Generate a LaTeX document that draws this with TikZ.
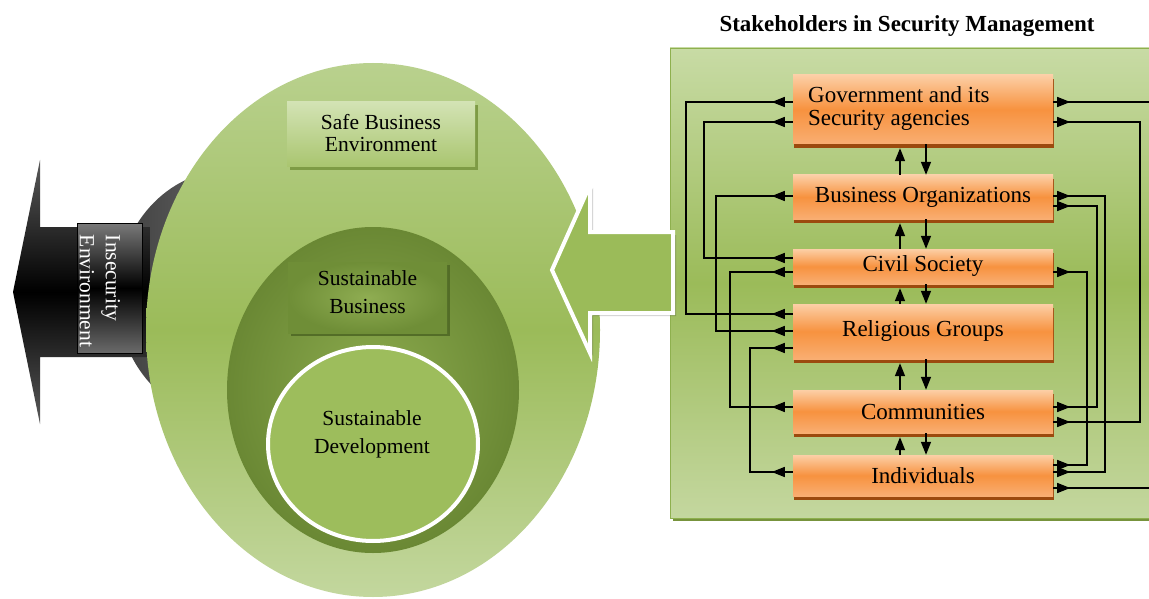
\documentclass[tikz,border=0pt]{standalone}
\usepackage{fontspec}
\setmainfont{Liberation Serif}
\usetikzlibrary{arrows.meta,shadings,shadows,calc}
\definecolor{olg}{HTML}{9BBB59}
\definecolor{olglt}{HTML}{C4D79F}
\definecolor{olgdk}{HTML}{77933C}
\definecolor{orlt}{HTML}{FCCFA6}
\definecolor{ormid}{HTML}{F7923F}
\definecolor{orbt}{HTML}{F9AE72}
\definecolor{orsh}{HTML}{9C4A0E}
\definecolor{pantop}{HTML}{C8DBA5}
\definecolor{panedge}{HTML}{8EB04E}
\definecolor{gry1}{HTML}{404040}
\definecolor{gry2}{HTML}{858585}
\definecolor{gry3}{HTML}{5A5A5A}
\definecolor{gry4}{HTML}{7A7A7A}
\definecolor{gry5}{HTML}{6A6A6A}
\definecolor{elltop}{HTML}{B9D18E}
\definecolor{ellbot}{HTML}{C3D79E}
\definecolor{safesh}{HTML}{7E9B45}
\definecolor{safetop}{HTML}{D3E3B4}
\definecolor{safebot}{HTML}{A9C56F}
\definecolor{inin}{HTML}{8CAB4E}
\definecolor{inout}{HTML}{6A8834}
\definecolor{sbsh}{HTML}{536D27}
\definecolor{sbin}{HTML}{8FAD52}
\definecolor{sbout}{HTML}{6F8E37}
\definecolor{sdfill}{HTML}{9DBD5C}
\newcommand\lconn[5]{%
  \draw[line] (#1.west |- 0,#2) -- (#3,#2) -- (#3,#5) -- (#4.west |- 0,#5);
  \draw[tipl] (#1.west |- 0,#2) -- ++(-21,0);
  \draw[tipl] (#4.west |- 0,#5) -- ++(-21,0);}
\newcommand\rconn[5]{%
  \draw[line] (#1.east |- 0,#2) -- (#3,#2) -- (#3,#5) -- (#4.east |- 0,#5);
  \draw[tipl] (#1.east |- 0,#2) -- ++(17,0);
  \draw[tipl] (#4.east |- 0,#5) -- ++(17,0);}
\begin{document}
\begin{tikzpicture}[x=1pt,y=-1pt,
  line/.style={line width=1.5pt,black},
  tipl/.style={line width=1.5pt,-{Triangle[length=13pt,width=10pt]}},
  stake/.style={rectangle, minimum width=260pt, inner sep=0pt,
    top color=orlt, bottom color=orbt, middle color=ormid,
    drop shadow={shadow xshift=1pt, shadow yshift=-4pt, fill=orsh, opacity=1},
    font=\fontsize{23}{23}\selectfont},
  ltxt/.style={font=\fontsize{21.5}{22}\selectfont, align=center, inner sep=0pt},
]
\useasboundingbox (0,0) rectangle (1149,599);
\clip (0,0) rectangle (1149,599);
\fill[white] (0,0) rectangle (1149,599);

% ---------- right panel ----------
\fill[olgdk] (673,51) rectangle (1175,521);
\shade[top color=pantop, bottom color=olglt, middle color=olg] (670,48) rectangle (1175,518);
\draw[panedge, line width=0.8pt] (670,48) rectangle (1175,518);

\node[font=\bfseries\fontsize{23}{25}\selectfont, inner sep=0pt] (title) at (907,26) {Stakeholders in Security Management};

\node[stake, minimum height=69pt] (gov) at (923,109.5) {};
\node[font=\fontsize{23}{23}\selectfont, anchor=west, align=left, inner sep=0pt] (govtxt) at (808,108.5) {Government and its\\Security agencies};
\node[stake, minimum height=44pt] (bus) at (923,197) {Business Organizations};
\node[stake, minimum height=35pt] (civ) at (923,266.5) {Civil Society};
\node[stake, minimum height=55pt] (rel) at (923,331.5) {Religious Groups};
\node[stake, minimum height=43pt] (com) at (923,411.5) {Communities};
\node[stake, minimum height=41pt] (ind) at (923,475.5) {Individuals};

% vertical arrows
\foreach \u/\l in {gov/bus, bus/civ, civ/rel, rel/com, com/ind}{
  \draw[tipl, shorten >=4pt] (\l.north -| 900,0) -- (\u.south -| 900,0);
  \draw[tipl] (\u.south -| 926,0) -- (\l.north -| 926,0);
}

% left connectors
\lconn{gov}{102}{686}{rel}{314}
\lconn{gov}{122}{704}{civ}{258}
\lconn{bus}{196}{716}{rel}{331}
\lconn{civ}{272}{730}{com}{407}
\lconn{rel}{348}{750}{ind}{472}
% right connectors
\rconn{gov}{102}{1170}{ind}{488}
\rconn{gov}{122}{1140}{com}{422}
\rconn{bus}{196}{1105}{ind}{472}
\rconn{bus}{206}{1097}{com}{407}
\rconn{civ}{272}{1087}{ind}{465}

% ---------- left part ----------
\shade[left color=gry1, right color=gry2] (230,295) ellipse [x radius=113, y radius=125];
\shade[top color=gry3, bottom color=gry3, middle color=black]
  (13,292) -- (40,160) -- (40,227) -- (150,227) -- (150,357) -- (40,357) -- (40,424) -- cycle;
\shade[top color=gry4, bottom color=gry5, middle color=black, draw=black, line width=0.8pt]
  (77,223) rectangle (142,353);
\node[rotate=-90, text=white, font=\fontsize{21.5}{26}\selectfont, align=left, inner sep=0pt] (insec) at (100,291) {Insecurity\\Environment};

\shade[top color=elltop, bottom color=ellbot, middle color=olg] (373,330) ellipse [x radius=227, y radius=267];

\fill[safesh] (290,105) rectangle (478,170);
\shade[top color=safetop, bottom color=safebot] (287,102) rectangle (475,167);
\node[ltxt] (safe) at (381,133) {Safe Business\\Environment};

\shade[inner color=inin, outer color=inout] (373,390) ellipse [x radius=146, y radius=163];

\fill[sbsh] (291,265) rectangle (450,336);
\shade[inner color=sbin, outer color=sbout] (288,262) rectangle (447,333);
\node[ltxt, font=\fontsize{21.5}{28}\selectfont] (sbus) at (367.5,292) {Sustainable\\Business};

\draw[white, line width=4pt, fill=sdfill] (373,444) ellipse [x radius=105, y radius=97];
\node[ltxt, font=\fontsize{21.5}{28}\selectfont] (sdev) at (372,434) {Sustainable\\Development};

% middle arrow
\fill[black, opacity=0.18] (555,273) -- (593,188) -- (593,235) -- (676,235) -- (676,316) -- (593,316) -- (593,356) -- cycle;
\draw[white, line width=4pt, fill=olg, line join=miter]
  (552,270) -- (590,185) -- (590,232) -- (673,232) -- (673,313) -- (590,313) -- (590,353) -- cycle;
\end{tikzpicture}
\end{document}
